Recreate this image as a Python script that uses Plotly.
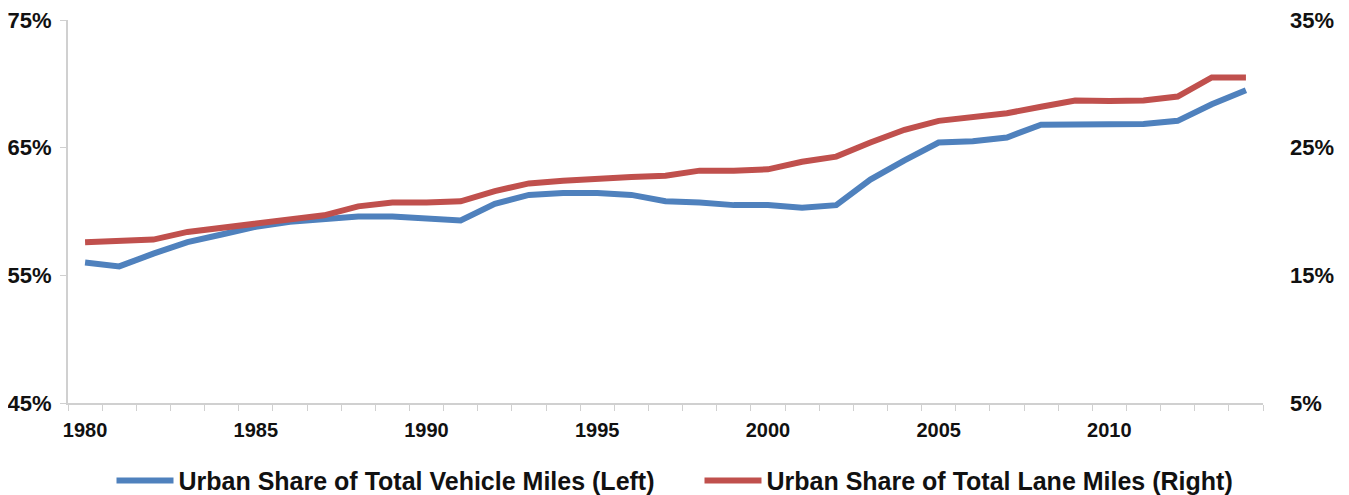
import plotly.graph_objects as go

years = list(range(1980, 2015))
vehicle_miles_share = [56.0, 55.7, 56.7, 57.6, 58.2, 58.8, 59.2, 59.4, 59.6, 59.6,
                       59.5, 59.3, 60.6, 61.3, 61.45, 61.45, 61.3, 60.8, 60.7, 60.5,
                       60.5, 60.3, 60.5, 62.5, 64.0, 65.4, 65.5, 65.8, 66.8, 66.8,
                       66.8, 66.85, 67.1, 68.4, 69.5]
lane_miles_share = [17.6, 17.7, 17.8, 18.4, 18.7, 19.1, 19.3, 19.7, 20.4, 20.7,
                    20.7, 20.8, 21.6, 22.2, 22.4, 22.6, 22.7, 22.8, 23.2, 23.2,
                    23.3, 23.9, 24.3, 25.4, 26.4, 27.1, 27.4, 27.7, 28.2, 28.7,
                    28.65, 28.7, 29.0, 30.5, 30.5]
year_ticks = [1980, 1985, 1990, 1995, 2000, 2005, 2010]
left_ticks = [45, 55, 65, 75]
right_ticks = [5, 15, 25, 35]
series_names = ["Urban Share of Total Vehicle Miles (Left)",
                "Urban Share of Total Lane Miles (Right)"]

FONT = "Liberation Sans, Arial, sans-serif"
AXIS_GRAY = "#d0d0d0"
TXT = "#111111"

fig = go.Figure()
fig.add_trace(go.Scatter(x=years, y=vehicle_miles_share, name=series_names[0],
                         mode="lines", line=dict(color="#4F81BD", width=6),
                         yaxis="y"))
fig.add_trace(go.Scatter(x=years, y=lane_miles_share, name=series_names[1],
                         mode="lines", line=dict(color="#C0504D", width=6),
                         yaxis="y2"))

fig.update_layout(
    width=1349, height=495,
    margin=dict(l=60, r=94, t=12, b=100, autoexpand=False),
    paper_bgcolor="white", plot_bgcolor="white",
    font=dict(family=FONT, color=TXT),
    xaxis=dict(
        range=[1979.5, 2014.5], automargin=False,
        tickmode="array", tickvals=year_ticks,
        ticktext=[str(y) for y in year_ticks],
        ticks="", showgrid=False, zeroline=False,
        showline=True, linecolor=AXIS_GRAY, linewidth=2,
        tickfont=dict(family=FONT, size=20, color=TXT, weight="bold"),
        ticklabelstandoff=8,
        minor=dict(tickmode="array", tickvals=[1979.5 + i for i in range(36)],
                   ticks="outside", ticklen=6, tickcolor=AXIS_GRAY, tickwidth=1,
                   showgrid=False),
    ),
    yaxis=dict(
        range=[45, 75], automargin=False,
        tickmode="array", tickvals=left_ticks,
        ticktext=[f"{v}%" for v in left_ticks],
        ticks="outside", ticklen=6, tickcolor=AXIS_GRAY, tickwidth=1,
        showline=True, linecolor=AXIS_GRAY, linewidth=2,
        showgrid=False, zeroline=False,
        tickfont=dict(family=FONT, size=22, color=TXT, weight="bold"),
        ticklabelstandoff=4, ticklabeloverflow="allow",
    ),
    yaxis2=dict(
        range=[5, 35], overlaying="y", side="right", automargin=False,
        tickmode="array", tickvals=right_ticks,
        ticktext=[f"{v}%" for v in right_ticks],
        ticks="", showline=False, showgrid=False, zeroline=False,
        tickfont=dict(family=FONT, size=22, color=TXT, weight="bold"),
        ticklabelstandoff=26, ticklabeloverflow="allow",
    ),
    legend=dict(
        orientation="h", xref="container", yref="container",
        x=0.5126, xanchor="center", y=0.045, yanchor="middle",
        font=dict(family=FONT, size=25, color=TXT, weight="bold"),
        itemwidth=57, bgcolor="rgba(0,0,0,0)",
        entrywidth=516, entrywidthmode="pixels",
    ),
    showlegend=True,
)

fig.write_html("out.html")
